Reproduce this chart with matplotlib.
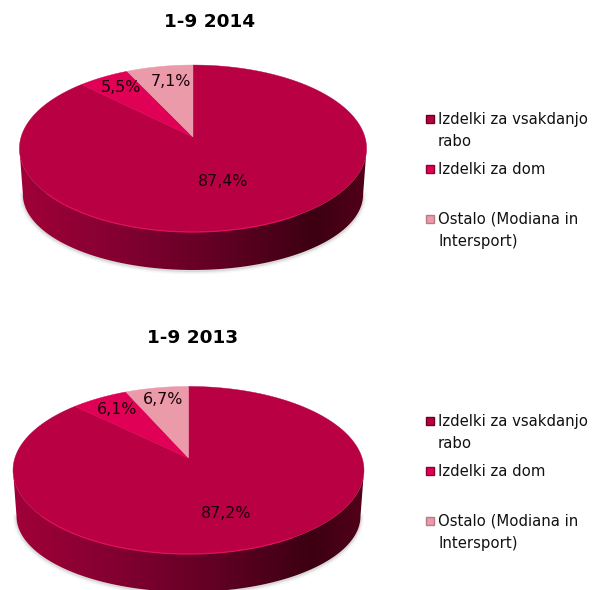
import numpy as np
import matplotlib
matplotlib.use('Agg')
import matplotlib.pyplot as plt
from matplotlib.colors import LinearSegmentedColormap
from matplotlib.patches import Polygon, Rectangle

titles = ['1-9 2014', '1-9 2013']
categories = ['Izdelki za vsakdanjo\nrabo', 'Izdelki za dom', 'Ostalo (Modiana in\nIntersport)']
shares_2014 = [87.4, 5.5, 7.1]
shares_2013 = [87.2, 6.1, 6.7]
labels_2014 = ['87,4%', '5,5%', '7,1%']
labels_2013 = ['87,2%', '6,1%', '6,7%']

colors = ['#B80043', '#E00055', '#EA9AA8']
legend_edge = ['#6a0028', '#8c0030', '#b87a88']
side_cmap = LinearSegmentedColormap.from_list('side', [
    (0.0, '#a00038'), (0.3, '#820030'), (0.6, '#5e0022'), (0.85, '#3c0012'), (1.0, '#520019')])

plt.rcParams['font.family'] = ['DejaVu Sans']
FS = 10.75

fig = plt.figure(figsize=(5.92, 5.9), dpi=100)
ax = fig.add_axes([0, 0, 1, 1])


def project(deg, cx, cy, a, b, k):
    # angle clockwise from 12 o'clock, tilted circle -> ellipse
    t = np.radians(deg)
    u, v = np.sin(t), np.cos(t)
    w = 1 + k * v
    return cx + a * u / w, cy - b * v / w


def draw_pie(shares, labels, title, cx, cy, a, b, k, label_pos, title_pos):
    t = np.linspace(0, 360, 721)
    x, y = project(t, cx, cy, a, b, k)
    mid = (y.min() + y.max()) / 2
    keep = y >= mid
    order = np.argsort(x[keep])
    xl, yl = x[keep][order], y[keep][order]
    # bottom ellipse is a bit narrower and flatter than the top one
    xb = cx + (xl - cx) * 0.98
    yb = mid + 46 + (yl - mid) * 0.904

    # soft shadow below the side wall
    for lw, al in [(5, 0.04), (3, 0.06), (1.5, 0.10)]:
        ax.plot(xb, yb + 1, color='#404040', lw=lw, alpha=al, zorder=1)

    # side wall
    side = Polygon(np.r_[np.c_[xl, yl], np.c_[xb, yb][::-1]], closed=True, fc='none', ec='none', zorder=2)
    ax.add_patch(side)
    grad = ax.imshow(np.linspace(0, 1, 256)[None, :], cmap=side_cmap, aspect='auto',
                     extent=(xl.min(), xl.max(), yb.max(), yl.min()), zorder=2)
    grad.set_clip_path(side)

    # top slices
    start = 0
    for share, c in zip(shares, colors):
        end = start + share * 3.6
        ts = np.linspace(start, end, 300)
        px, py = project(ts, cx, cy, a, b, k)
        ax.add_patch(Polygon(np.r_[[[cx, cy]], np.c_[px, py]], closed=True, fc=c, ec=c, lw=0.3, zorder=3))
        start = end

    # light rim on the lower edge
    front = (xl > cx - a * 0.85) & (xl < cx + a * 0.6)
    ax.plot(xl[front], yl[front], color='#e0105c', lw=0.9, zorder=4)

    for lab, (lx, ly) in zip(labels, label_pos):
        ax.text(lx, ly, lab, ha='center', va='center', fontsize=11.4, color='#1a0008', zorder=5)
    ax.text(title_pos[0], title_pos[1], title, ha='center', va='center', fontsize=13.3,
            fontweight='bold', color='black')


def draw_legend(y0):
    rows = [0, 50, 100]
    for name, c, e, dy in zip(categories, colors, legend_edge, rows):
        ax.add_patch(Rectangle((426, y0 + dy - 4), 8, 8, fc=c, ec=e, lw=1, zorder=5))
        ax.text(438, y0 + dy - 7, name, ha='left', va='top', fontsize=FS, linespacing=1.58, color='#111111')


draw_pie(shares_2014, labels_2014, titles[0], 193, 137, 171.9, 81.9, 0.138,
         [(223, 181), (121, 87), (171, 81)], (209.5, 22))
draw_pie(shares_2013, labels_2013, titles[1], 188.5, 458, 173.6, 82.0, 0.146,
         [(226, 513), (117, 409), (163, 400)], (193, 338))
draw_legend(119)
draw_legend(421)

ax.set_xlim(0, 592)
ax.set_ylim(590, 0)
ax.axis('off')
fig.savefig('out.png', dpi=100)
